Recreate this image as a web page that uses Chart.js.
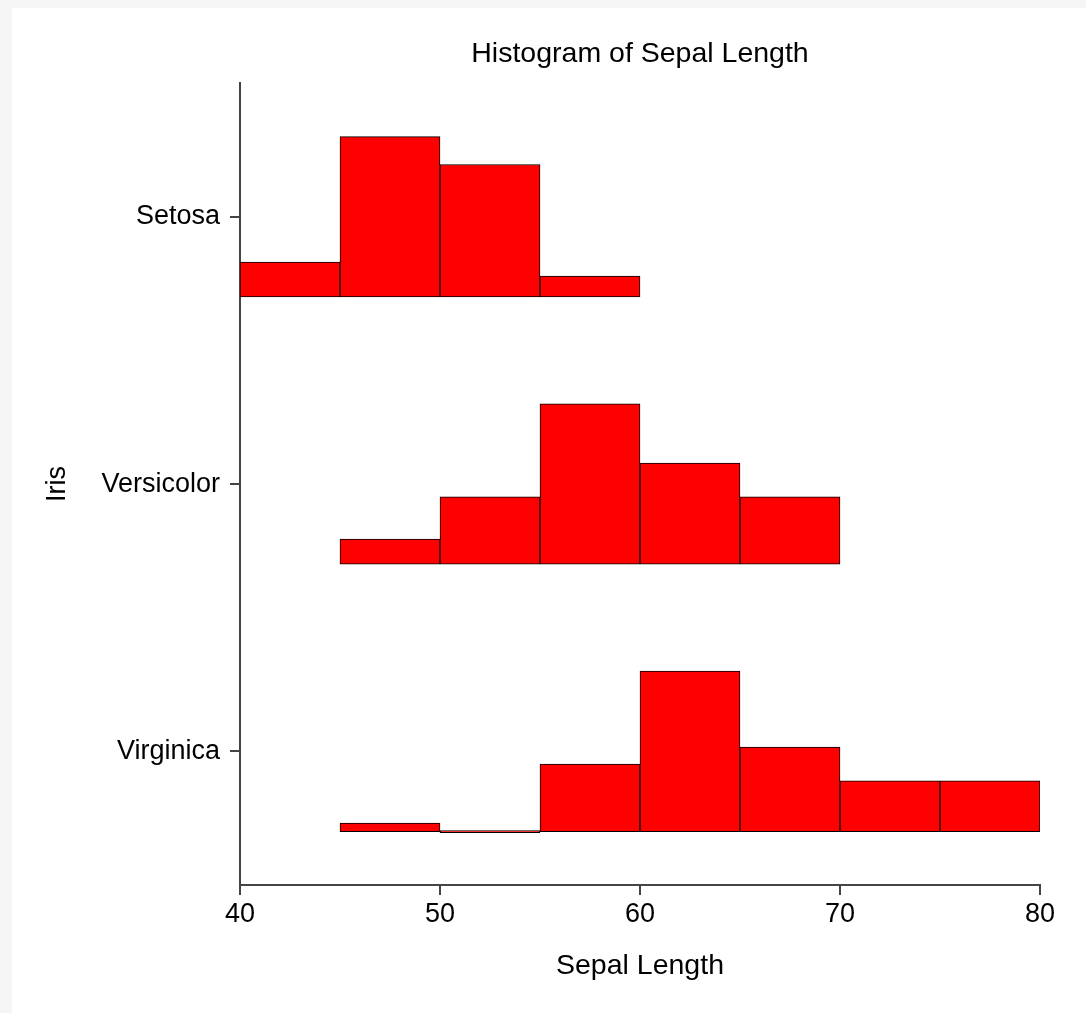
<!DOCTYPE html>
<html>
<head>
<meta charset="utf-8">
<script src="https://cdn.jsdelivr.net/npm/chart.js"></script>
<style>
  body { margin: 0; background: #f5f5f5; }
  #wrap { position: absolute; left: 12px; top: 8px; width: 1074px; height: 1005px; background: #fff; }
</style>
</head>
<body>
<div id="wrap"><canvas id="myChart" width="1074" height="1005"></canvas></div>

<script>
    // histogram data: counts per 5-unit bin, null = no bar drawn
    const species = ['Setosa', 'Versicolor', 'Virginica'];
    const binStarts = [40, 45, 50, 55, 60, 65, 70, 75];
    const binWidth = 5;
    const setosaCounts = [5, 23, 19, 3, null, null, null, null];
    const versicolorCounts = [null, 3, 8, 19, 12, 8, null, null];
    const virginicaCounts = [null, 1, 0, 8, 19, 10, 6, 6];
    const xTicks = [40, 50, 60, 70, 80];

    const allCounts = [setosaCounts, versicolorCounts, virginicaCounts];
    const rowHeight = 0.6; // tallest bar in a row, in row units

    function rowBase(i) {
        return species.length - 1 - i;
    }

    const FONT = '"Liberation Sans", Arial, sans-serif';

    const datasets = species.map(function (name, i) {
        const counts = allCounts[i];
        const maxCount = Math.max(...counts.filter(c => c !== null));
        const base = rowBase(i);
        const points = [];
        binStarts.forEach(function (start, j) {
            if (counts[j] === null) return;
            points.push({
                x: start + binWidth / 2,
                y: [base, base + counts[j] / maxCount * rowHeight]
            });
        });
        return {
            label: name,
            data: points,
            backgroundColor: '#ff0000',
            borderColor: '#000000',
            borderWidth: 1,
            borderSkipped: false,
            minBarLength: 2,
            grouped: false,
            barPercentage: 1,
            categoryPercentage: 1
        };
    });

    const ctx = document.getElementById('myChart');

    myChart = new Chart(ctx, {
        type: 'bar',
        data: { datasets: datasets },
        options: {
            responsive: false,
            animation: false,
            events: [],
            layout: {
                padding: { left: 0, top: 0, right: 46, bottom: 0 }
            },
            plugins: {
                legend: { display: false },
                tooltip: { enabled: false },
                title: {
                    display: true,
                    text: 'Histogram of Sepal Length',
                    fullSize: false,
                    color: '#000',
                    font: { family: FONT, size: 28.5, weight: 'normal' },
                    padding: { top: 29, bottom: 12 }
                }
            },
            scales: {
                x: {
                    type: 'linear',
                    min: 40,
                    max: 80,
                    offset: false,
                    afterBuildTicks: function (scale) {
                        scale.ticks = xTicks.map(v => ({ value: v }));
                    },
                    afterFit: function (scale) {
                        scale.height = 128;
                    },
                    grid: {
                        display: true,
                        offset: false,
                        drawOnChartArea: false,
                        drawTicks: true,
                        tickLength: 10,
                        lineWidth: 2,
                        color: '#444'
                    },
                    border: { display: true, color: '#444', width: 2 },
                    ticks: {
                        color: '#000',
                        padding: 3,
                        maxRotation: 0,
                        font: { family: FONT, size: 27 }
                    },
                    title: {
                        display: true,
                        text: 'Sepal Length',
                        color: '#000',
                        font: { family: FONT, size: 28.5 },
                        padding: { top: 0, bottom: 30 }
                    }
                },
                y: {
                    type: 'linear',
                    min: -0.2,
                    max: 2.8,
                    afterBuildTicks: function (scale) {
                        scale.ticks = species.map((s, i) => ({ value: rowBase(i) + rowHeight / 2 }))
                            .sort((a, b) => a.value - b.value);
                    },
                    afterFit: function (scale) {
                        scale.width = 228;
                    },
                    grid: {
                        display: true,
                        drawOnChartArea: false,
                        drawTicks: true,
                        tickLength: 10,
                        lineWidth: 2,
                        color: '#444'
                    },
                    border: { display: true, color: '#444', width: 2 },
                    ticks: {
                        color: '#000',
                        padding: 10,
                        font: { family: FONT, size: 27 },
                        callback: function (value) {
                            return species[species.length - 1 - Math.round(value - rowHeight / 2)];
                        }
                    },
                    title: {
                        display: true,
                        text: 'Iris',
                        color: '#000',
                        font: { family: FONT, size: 27 },
                        padding: { top: 29, bottom: 0 }
                    }
                }
            }
        }
    });
</script>
</body>
</html>
